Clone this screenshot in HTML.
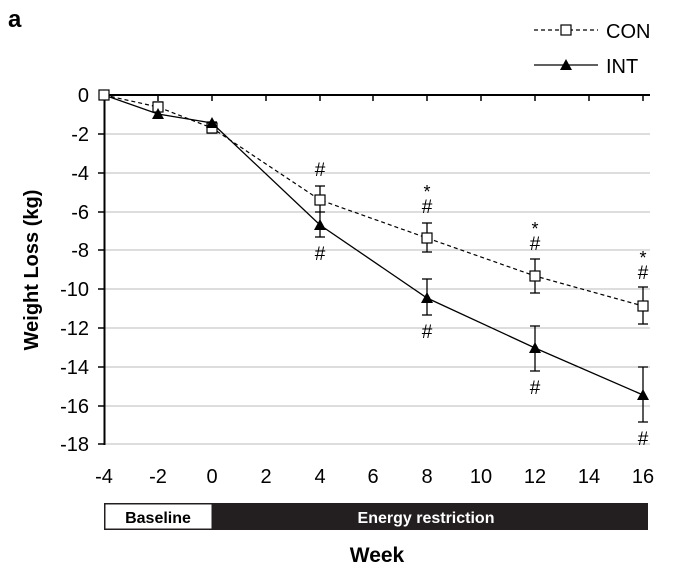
<!DOCTYPE html>
<html><head><style>body{margin:0;background:#fff}svg{display:block}</style></head><body>
<svg width="686" height="572" xmlns="http://www.w3.org/2000/svg" font-family="Liberation Sans, Arial, sans-serif">
<text x="8" y="27" font-size="24" font-weight="bold">a</text>
<line x1="534" y1="30" x2="598" y2="30" stroke="#000" stroke-width="1.2" stroke-dasharray="4,3"/>
<rect x="561" y="25" width="10" height="10" fill="#fff" stroke="#000" stroke-width="1.2"/>
<text x="606" y="38" font-size="20">CON</text>
<line x1="534" y1="65" x2="598" y2="65" stroke="#000" stroke-width="1.2"/>
<polygon points="566,59 572,70 560,70" fill="#000"/>
<text x="606" y="73" font-size="20">INT</text>
<g stroke="#bbb" stroke-width="1">
<line x1="104" y1="134" x2="650" y2="134"/><line x1="104" y1="173" x2="650" y2="173"/>
<line x1="104" y1="212" x2="650" y2="212"/><line x1="104" y1="250" x2="650" y2="250"/>
<line x1="104" y1="289" x2="650" y2="289"/><line x1="104" y1="328" x2="650" y2="328"/>
<line x1="104" y1="367" x2="650" y2="367"/><line x1="104" y1="406" x2="650" y2="406"/>
<line x1="104" y1="444" x2="650" y2="444"/>
</g>
<g stroke="#000" stroke-width="2">
<line x1="104" y1="95" x2="650" y2="95"/>
<line x1="104.5" y1="95" x2="104.5" y2="445"/>
</g>
<g stroke="#000" stroke-width="1.5">
<line x1="158" y1="95" x2="158" y2="101"/><line x1="212" y1="95" x2="212" y2="101"/>
<line x1="266" y1="95" x2="266" y2="101"/><line x1="320" y1="95" x2="320" y2="101"/>
<line x1="373" y1="95" x2="373" y2="101"/><line x1="427" y1="95" x2="427" y2="101"/>
<line x1="481" y1="95" x2="481" y2="101"/><line x1="535" y1="95" x2="535" y2="101"/>
<line x1="589" y1="95" x2="589" y2="101"/><line x1="643" y1="95" x2="643" y2="101"/>
<line x1="98" y1="134" x2="104" y2="134"/><line x1="98" y1="173" x2="104" y2="173"/>
<line x1="98" y1="212" x2="104" y2="212"/><line x1="98" y1="250" x2="104" y2="250"/>
<line x1="98" y1="289" x2="104" y2="289"/><line x1="98" y1="328" x2="104" y2="328"/>
<line x1="98" y1="367" x2="104" y2="367"/><line x1="98" y1="406" x2="104" y2="406"/>
<line x1="98" y1="444" x2="104" y2="444"/>
</g>
<g font-size="20" text-anchor="end">
<text x="89" y="102">0</text><text x="89" y="141">-2</text><text x="89" y="180">-4</text>
<text x="89" y="219">-6</text><text x="89" y="257">-8</text><text x="89" y="296">-10</text>
<text x="89" y="335">-12</text><text x="89" y="374">-14</text><text x="89" y="413">-16</text>
<text x="89" y="451">-18</text>
</g>
<g font-size="20" text-anchor="middle">
<text x="104" y="483">-4</text><text x="158" y="483">-2</text><text x="212" y="483">0</text>
<text x="266" y="483">2</text><text x="320" y="483">4</text><text x="373" y="483">6</text>
<text x="427" y="483">8</text><text x="481" y="483">10</text><text x="535" y="483">12</text>
<text x="589" y="483">14</text><text x="643" y="483">16</text>
</g>
<text transform="translate(38,270) rotate(-90)" font-size="20" font-weight="bold" text-anchor="middle">Weight Loss (kg)</text>
<rect x="104" y="503" width="544" height="27" fill="#231f20"/>
<rect x="105" y="504" width="107" height="25" fill="#fff" stroke="#231f20" stroke-width="1"/>
<text x="158" y="523" font-size="16" font-weight="bold" text-anchor="middle">Baseline</text>
<text x="426" y="523" font-size="16" font-weight="bold" text-anchor="middle" fill="#fff">Energy restriction</text>
<text x="377" y="562" font-size="21" font-weight="bold" text-anchor="middle">Week</text>
<g stroke="#000" stroke-width="1.3">
<line x1="158" y1="102" x2="158" y2="119"/><line x1="153" y1="102" x2="163" y2="102"/>
<line x1="212" y1="122" x2="212" y2="133"/><line x1="207" y1="122" x2="217" y2="122"/><line x1="207" y1="133" x2="217" y2="133"/>
<line x1="320" y1="186" x2="320" y2="212"/><line x1="315" y1="186" x2="325" y2="186"/><line x1="315" y1="212" x2="325" y2="212"/>
<line x1="320" y1="211" x2="320" y2="237"/><line x1="315" y1="237" x2="325" y2="237"/>
<line x1="427" y1="223" x2="427" y2="252"/><line x1="422" y1="223" x2="432" y2="223"/><line x1="422" y1="252" x2="432" y2="252"/>
<line x1="427" y1="279" x2="427" y2="315"/><line x1="422" y1="279" x2="432" y2="279"/><line x1="422" y1="315" x2="432" y2="315"/>
<line x1="535" y1="259" x2="535" y2="293"/><line x1="530" y1="259" x2="540" y2="259"/><line x1="530" y1="293" x2="540" y2="293"/>
<line x1="535" y1="326" x2="535" y2="371"/><line x1="530" y1="326" x2="540" y2="326"/><line x1="530" y1="371" x2="540" y2="371"/>
<line x1="643" y1="287" x2="643" y2="324"/><line x1="638" y1="287" x2="648" y2="287"/><line x1="638" y1="324" x2="648" y2="324"/>
<line x1="643" y1="367" x2="643" y2="422"/><line x1="638" y1="367" x2="648" y2="367"/><line x1="638" y1="422" x2="648" y2="422"/>
</g>
<polyline points="104,95 158,107 212,128 320,200 427,238 535,276 643,306" fill="none" stroke="#000" stroke-width="1.2" stroke-dasharray="4,3"/>
<polyline points="104,95 158,114 212,123 320,225 427,298 535,348 643,395" fill="none" stroke="#000" stroke-width="1.3"/>
<g fill="#fff" stroke="#000" stroke-width="1.2">
<rect x="99" y="90" width="10" height="10"/><rect x="153" y="102" width="10" height="10"/>
<rect x="207" y="123" width="10" height="10"/><rect x="315" y="195" width="10" height="10"/>
<rect x="422" y="233" width="10" height="10"/><rect x="530" y="271" width="10" height="10"/>
<rect x="638" y="301" width="10" height="10"/>
</g>
<g fill="#000">
<polygon points="158,108 164,119 152,119"/><polygon points="212,117 218,128 206,128"/>
<polygon points="320,219 326,230 314,230"/><polygon points="427,292 433,303 421,303"/>
<polygon points="535,342 541,353 529,353"/><polygon points="643,389 649,400 637,400"/>
</g>
<g font-size="19" text-anchor="middle">
<text x="320" y="176">#</text><text x="320" y="260">#</text>
<text x="427" y="213">#</text><text x="427" y="338">#</text>
<text x="535" y="250">#</text><text x="535" y="394">#</text>
<text x="643" y="279">#</text><text x="643" y="445">#</text>
</g>
<g font-size="18" text-anchor="middle">
<text x="427" y="198">*</text><text x="535" y="235">*</text><text x="643" y="264">*</text>
</g>
</svg>
</body></html>
